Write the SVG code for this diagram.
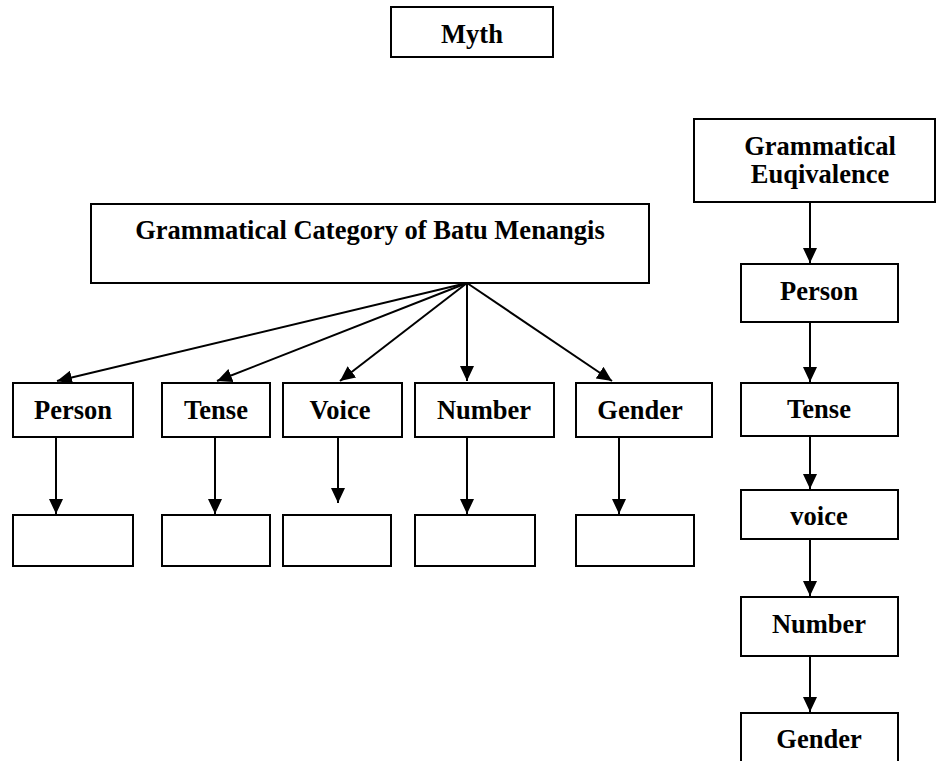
<svg xmlns="http://www.w3.org/2000/svg" width="937" height="761" viewBox="0 0 937 761">
<defs>
<marker id="ah" viewBox="0 0 15 14" markerWidth="15" markerHeight="14" refX="15" refY="7" orient="auto" markerUnits="userSpaceOnUse">
<path d="M0,0 L15,7 L0,14 z" fill="#000"/>
</marker>
<style>
.box{fill:#fff;stroke:#000;stroke-width:2}
.t{font-family:"Liberation Serif","Times New Roman",serif;font-weight:bold;font-size:26.5px;text-anchor:middle;fill:#000}
.c{stroke:#000;stroke-width:2;fill:none;marker-end:url(#ah)}
</style>
</defs>
<rect width="937" height="761" fill="#fff"/>
<g id="connectors">
<line class="c" x1="467" y1="283" x2="57" y2="381"/>
<line class="c" x1="467" y1="283" x2="217" y2="381"/>
<line class="c" x1="467" y1="283" x2="340" y2="381"/>
<line class="c" x1="467" y1="283" x2="467" y2="381"/>
<line class="c" x1="467" y1="283" x2="612" y2="381"/>
<line class="c" x1="56" y1="437" x2="56" y2="514"/>
<line class="c" x1="215" y1="437" x2="215" y2="514"/>
<line class="c" x1="338" y1="437" x2="338" y2="503"/>
<line class="c" x1="467" y1="437" x2="467" y2="514"/>
<line class="c" x1="619" y1="437" x2="619" y2="514"/>
<line class="c" x1="810" y1="203" x2="810" y2="263"/>
<line class="c" x1="810" y1="322" x2="810" y2="382"/>
<line class="c" x1="810" y1="436" x2="810" y2="489"/>
<line class="c" x1="810" y1="539" x2="810" y2="596"/>
<line class="c" x1="810" y1="656" x2="810" y2="712"/>
</g>
<g id="myth"><rect class="box" x="391" y="7" width="162" height="50"/><text class="t" x="472" y="43">Myth</text></g>
<g id="gcbm"><rect class="box" x="91" y="204" width="558" height="79"/><text class="t" x="370" y="239">Grammatical Category of Batu Menangis</text></g>
<g id="person"><rect class="box" x="13" y="383" width="120" height="54"/><text class="t" x="73" y="419">Person</text></g>
<g id="tense"><rect class="box" x="162" y="383" width="108" height="54"/><text class="t" x="216" y="419">Tense</text></g>
<g id="voice"><rect class="box" x="283" y="383" width="119" height="54"/><text class="t" x="340" y="419">Voice</text></g>
<g id="number"><rect class="box" x="415" y="383" width="139" height="54"/><text class="t" x="484" y="419">Number</text></g>
<g id="gender"><rect class="box" x="576" y="383" width="136" height="54"/><text class="t" x="640" y="419">Gender</text></g>
<g id="person-empty"><rect class="box" x="13" y="515" width="120" height="51"/></g>
<g id="tense-empty"><rect class="box" x="162" y="515" width="108" height="51"/></g>
<g id="voice-empty"><rect class="box" x="283" y="515" width="108" height="51"/></g>
<g id="number-empty"><rect class="box" x="415" y="515" width="120" height="51"/></g>
<g id="gender-empty"><rect class="box" x="576" y="515" width="118" height="51"/></g>
<g id="ge"><rect class="box" x="694" y="119" width="241" height="83"/><text class="t" x="820" y="155">Grammatical</text><text class="t" x="820" y="183">Euqivalence</text></g>
<g id="r-person"><rect class="box" x="741" y="264" width="157" height="58"/><text class="t" x="819" y="300">Person</text></g>
<g id="r-tense"><rect class="box" x="741" y="383" width="157" height="53"/><text class="t" x="819" y="418">Tense</text></g>
<g id="r-voice"><rect class="box" x="741" y="490" width="157" height="49"/><text class="t" x="819" y="525">voice</text></g>
<g id="r-number"><rect class="box" x="741" y="597" width="157" height="59"/><text class="t" x="819" y="633">Number</text></g>
<g id="r-gender"><rect class="box" x="741" y="713" width="157" height="60"/><text class="t" x="819" y="748">Gender</text></g>
</svg>
